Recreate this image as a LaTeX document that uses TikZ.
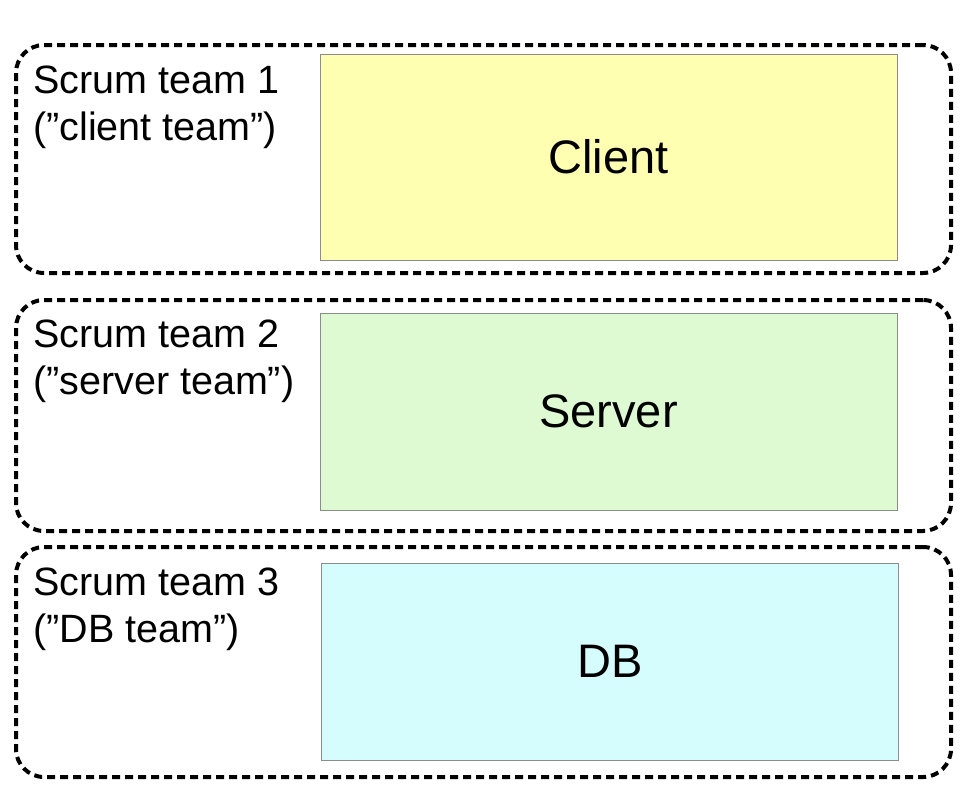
\documentclass[tikz,border=0pt]{standalone}
\usepackage{fontspec}
\setmainfont{Liberation Sans}
\usetikzlibrary{positioning}
\definecolor{clientfill}{RGB}{255,255,178}
\definecolor{serverfill}{RGB}{221,250,211}
\definecolor{dbfill}{RGB}{214,253,253}
\newcommand{\teamw}{935}
\newcommand{\partw}{577}
\tikzset{
  team/.style={draw=black, line width=4pt, dash pattern=on 8pt off 5pt,
    rounded corners=28pt, minimum width=\teamw pt, inner sep=0pt},
  part/.style={draw=black!45, line width=1pt, minimum width=\partw pt,
    inner sep=0pt, font=\fontsize{47}{56}\selectfont},
  teamlabel/.style={anchor=north west, inner sep=0pt, align=left,
    font=\fontsize{39.5}{47}\selectfont}
}
\begin{document}
\begin{tikzpicture}[x=1pt,y=-1pt]
\useasboundingbox (0,0) rectangle (968,790);
% team boxes
\node[team, minimum height=228pt] (team1) at (483.5,159) {};
\node[team, minimum height=231pt] (team2) at (483.5,415.5) {};
\node[team, minimum height=230pt] (team3) at (483.5,662) {};
% components
\node[part, fill=clientfill, minimum height=206pt] (client) at (608.5,157) {Client};
\node[part, fill=serverfill, minimum height=197pt] (server) at (608.5,411.5) {Server};
\node[part, fill=dbfill, minimum height=197pt] (db) at (610,661.5) {DB};
% team names
\node[teamlabel] (label1) at (33,66) {Scrum team 1\\(”client team”)};
\node[teamlabel] (label2) at (33,320) {Scrum team 2\\(”server team”)};
\node[teamlabel] (label3) at (33,568) {Scrum team 3\\(”DB team”)};
\end{tikzpicture}
\end{document}
